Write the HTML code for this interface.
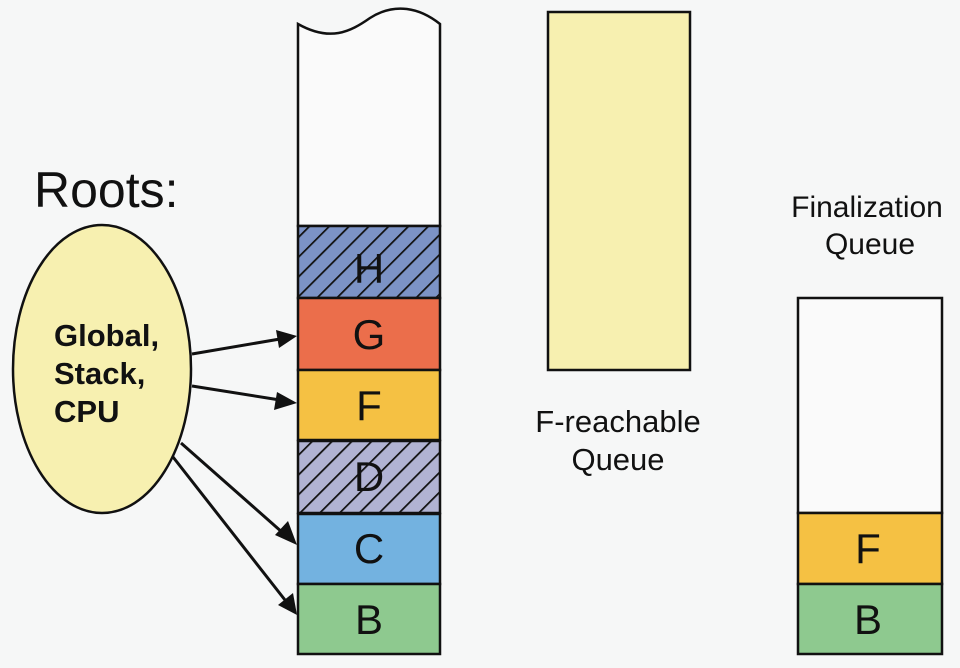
<!DOCTYPE html>
<html><head><meta charset="utf-8"><style>
html,body{margin:0;padding:0;background:#f6f7f7;}
svg{display:block;font-family:"Liberation Sans",sans-serif;}
</style></head><body>
<svg width="960" height="668" viewBox="0 0 960 668" xmlns="http://www.w3.org/2000/svg">
<defs>
<pattern id="hatch" patternUnits="userSpaceOnUse" width="14" height="14" patternTransform="rotate(45)">
<line x1="0" y1="0" x2="0" y2="14" stroke="#111" stroke-width="3.5"/>
</pattern>
</defs>
<rect width="960" height="668" fill="#f6f7f7"/>
<path d="M298,24 C330,42 350,32 370,18 C395,2 420,8 440,24 L440,226 L298,226 Z" fill="#fafafa" stroke="#111" stroke-width="2.5"/>
<rect x="298" y="226" width="142" height="72" fill="#7c93c6" stroke="#111" stroke-width="2.5"/>
<rect x="298" y="226" width="142" height="72" fill="url(#hatch)"/>
<text x="369" y="283" font-size="42" text-anchor="middle" fill="#111">H</text>
<rect x="298" y="298" width="142" height="72" fill="#eb6e4b" stroke="#111" stroke-width="2.5"/>
<text x="369" y="349" font-size="42" text-anchor="middle" fill="#111">G</text>
<rect x="298" y="370" width="142" height="70" fill="#f5c143" stroke="#111" stroke-width="2.5"/>
<text x="369" y="420" font-size="42" text-anchor="middle" fill="#111">F</text>
<rect x="298" y="441" width="142" height="72" fill="#b1b3d3" stroke="#111" stroke-width="2.5"/>
<rect x="298" y="441" width="142" height="72" fill="url(#hatch)"/>
<text x="369" y="491" font-size="42" text-anchor="middle" fill="#111">D</text>
<rect x="298" y="514" width="142" height="70" fill="#73b2e0" stroke="#111" stroke-width="2.5"/>
<text x="369" y="563" font-size="42" text-anchor="middle" fill="#111">C</text>
<rect x="298" y="584" width="142" height="70" fill="#8ec98f" stroke="#111" stroke-width="2.5"/>
<text x="369" y="634" font-size="42" text-anchor="middle" fill="#111">B</text>
<text x="34" y="207" font-size="50" fill="#111">Roots:</text>
<ellipse cx="102" cy="369" rx="89" ry="144" fill="#f7f0b0" stroke="#111" stroke-width="2.5"/>
<text x="54" y="346" font-size="31" font-weight="bold" fill="#111">Global,</text>
<text x="54" y="384" font-size="31" font-weight="bold" fill="#111">Stack,</text>
<text x="54" y="422" font-size="31" font-weight="bold" fill="#111">CPU</text>
<g stroke="#111" stroke-width="3">
<line x1="192" y1="354" x2="280" y2="339"/>
<line x1="192" y1="386" x2="280" y2="400"/>
<line x1="181" y1="443" x2="283" y2="533"/>
<line x1="173" y1="457" x2="285" y2="600"/>
</g>
<g fill="#111">
<polygon points="297,336 276,330 279,348"/>
<polygon points="297,403 277,392 274,410"/>
<polygon points="297,545 275,535 288,521"/>
<polygon points="297,615 278,605 293,593"/>
</g>
<rect x="548" y="12" width="142" height="358" fill="#f7f0b0" stroke="#111" stroke-width="2.5"/>
<text x="618" y="432" font-size="31" text-anchor="middle" fill="#111">F-reachable</text>
<text x="618" y="470" font-size="31" text-anchor="middle" fill="#111">Queue</text>
<text x="867" y="217" font-size="30" text-anchor="middle" fill="#111">Finalization</text>
<text x="870" y="254" font-size="30" text-anchor="middle" fill="#111">Queue</text>
<rect x="798" y="298" width="144" height="215" fill="#fafafa" stroke="#111" stroke-width="2.5"/>
<rect x="798" y="513" width="144" height="71" fill="#f5c143" stroke="#111" stroke-width="2.5"/>
<text x="868" y="563" font-size="42" text-anchor="middle" fill="#111">F</text>
<rect x="798" y="584" width="144" height="70" fill="#8ec98f" stroke="#111" stroke-width="2.5"/>
<text x="868" y="634" font-size="42" text-anchor="middle" fill="#111">B</text>
</svg>
</body></html>
